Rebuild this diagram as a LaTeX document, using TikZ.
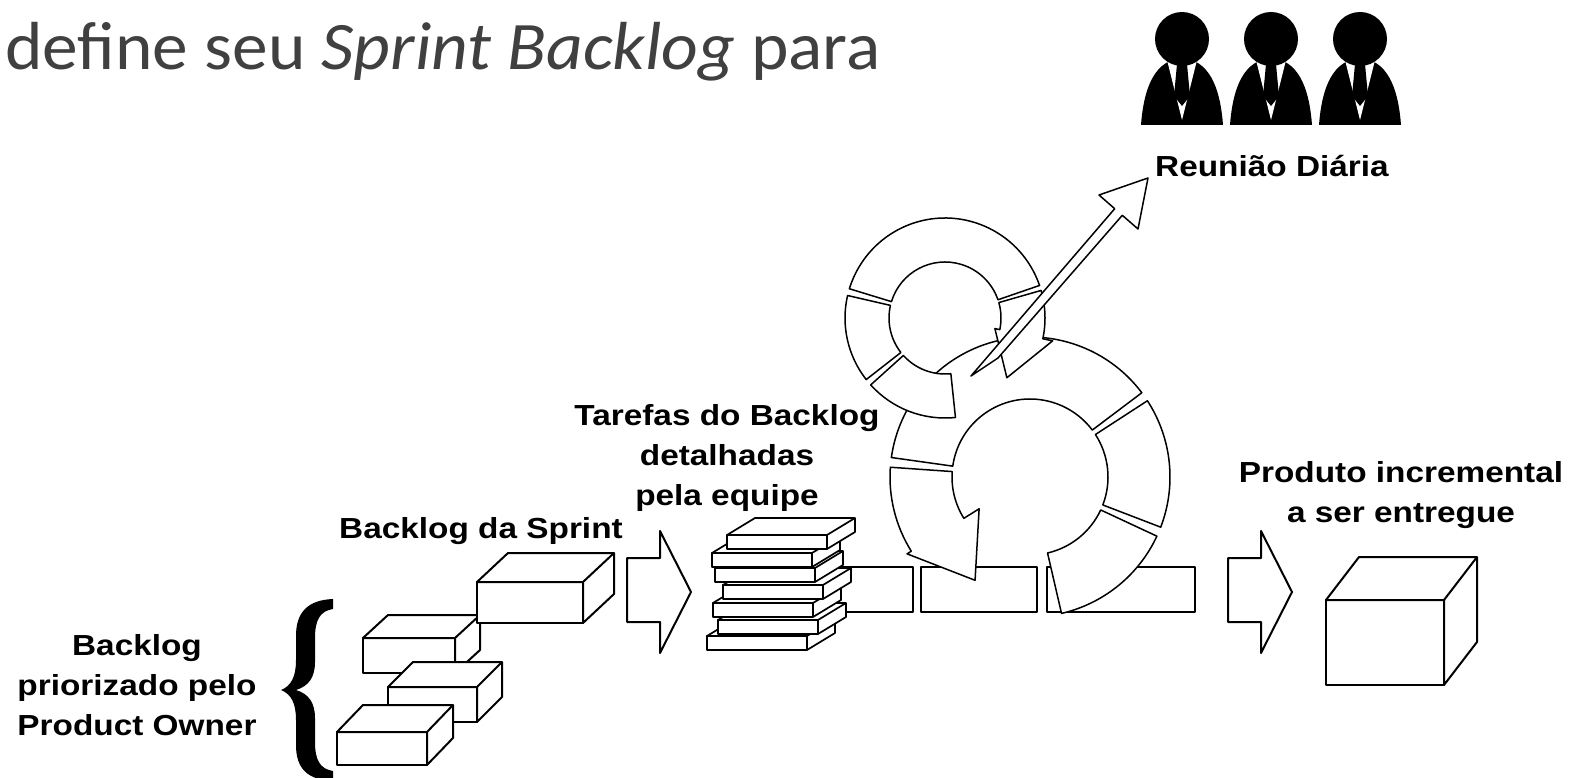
\documentclass[tikz,border=0pt]{standalone}
\usepackage{fontspec}
\setmainfont{Carlito}
\newfontfamily\slidefont[FakeStretch=1.05]{Carlito}
\newfontfamily\tagfont[FakeStretch=1.15]{Liberation Sans}
\usepackage{tikz}
\usetikzlibrary{calc}
\definecolor{slidegray}{RGB}{64,64,64}

% 3D box: front corners (x1,y1) (x2,y2), then depth offset
\newcommand{\scrumbox}[7][box]{%
  \draw[#1] (#2,#3) rectangle (#4,#5);
  \draw[#1] (#2,#3) -- ++(#6,#7) -- ({#4+#6},{#3+#7}) -- ({#4+#6},{#5+#7}) -- (#4,#5) -- (#4,#3) -- cycle;
  \draw[#1] (#4,#3) -- ++(#6,#7);}
% one flat task in the pile
\newcommand{\taskslab}[2]{\scrumbox[slab]{#1}{#2}{#1+100}{#2+14}{28}{-17}}
% ring piece: centre, inner r, outer r, from, to
\newcommand{\ringpiece}[5]{%
  \draw[ring] ($(#1)+(#4:#3)$) arc[start angle=#4, end angle=#5, radius=#3]
    -- ($(#1)+(#5:#2)$) arc[start angle=#5, end angle=#4, radius=#2] -- cycle;}
% ring piece with a head: ..., tip angle, tip r, outer wing, inner wing
\newcommand{\ringhead}[9]{%
  \draw[ring] ($(#1)+(#4:#3)$) arc[start angle=#4, end angle=#5, radius=#3]
    -- ($(#1)+(#5:{#3+#8})$) -- ($(#1)+(#6:#7)$) -- ($(#1)+(#5:{#2-#9})$)
    -- ($(#1)+(#5:#2)$) arc[start angle=#5, end angle=#4, radius=#2] -- cycle;}
% fat outlined arrow, (x,y) = top left of the shaft
\newcommand{\blockarrow}[2]{%
  \draw[box] (#1,#2) -- ++(33,0) -- ++(0,-27) -- ++(31,61) -- ++(-31,61) -- ++(0,-31) -- ++(-33,0) -- cycle;}
% team member icon
\newcommand{\member}[1]{%
  \fill (#1-41,125) .. controls (#1-38,85) and (#1-26,60) .. (#1,58)
    .. controls (#1+26,60) and (#1+38,85) .. (#1+41,125) -- cycle;
  \fill[white] (#1-15,60) -- (#1+15,60) -- (#1,120) -- cycle;
  \fill (#1-5,64) -- (#1+5,64) -- (#1+8,96) -- (#1,106) -- (#1-8,96) -- cycle;
  \fill (#1,39) circle[radius=27];}

\begin{document}
\begin{tikzpicture}[x=1pt, y=-1pt,
  box/.style={draw, fill=white, line width=2pt, line join=round},
  slab/.style={draw, fill=white, line width=1.7pt, line join=round},
  ring/.style={draw, fill=white, line width=1.5pt, line join=round},
  lbl/.style={font=\tagfont\bfseries\fontsize{29}{40}\selectfont, align=center, inner sep=0pt}]
\useasboundingbox[fill=white] (0,0) rectangle (1575,778);

% slide text
\node[anchor=base west, inner sep=0pt, text=slidegray, font=\slidefont\fontsize{68}{80}\selectfont]
  (title) at (5,70) {define seu \textit{Sprint Backlog} para};

% product backlog
\fill (333,599) .. controls (308,600) and (296,612) .. (296,636) -- (296,660)
  .. controls (296,677) and (291,686) .. (281,690)
  .. controls (291,694) and (296,703) .. (296,720) -- (296,745)
  .. controls (296,769) and (308,780) .. (333,781) -- (333,771)
  .. controls (320,769) and (315,760) .. (315,742) -- (315,718)
  .. controls (315,703) and (309,694) .. (296,690)
  .. controls (309,686) and (315,677) .. (315,662) -- (315,638)
  .. controls (315,620) and (320,611) .. (333,609) -- cycle;
\scrumbox{363}{638}{455}{673}{25}{-23}
\scrumbox{388}{687}{477}{722}{25}{-25}
\scrumbox{337}{732}{427}{765}{26}{-27}
\node[lbl, anchor=base] (pobacklog) at (137,735) {Backlog\\priorizado pelo\\Product Owner};

% sprint backlog
\scrumbox{477}{582}{583}{623}{31}{-29}
\node[lbl, anchor=base] (sprintbacklog) at (481,538) {Backlog da Sprint};
\blockarrow{627}{558}

% sprint days
\draw[box] (838,567) rectangle (913,612);
\draw[box] (921,567) rectangle (1037,612);
\draw[box] (1047,567) rectangle (1195,612);

% task pile
\taskslab{707}{636}
\taskslab{718}{620}
\taskslab{713}{603}
\taskslab{723}{585}
\taskslab{715}{568}
\taskslab{712}{553}
\taskslab{727}{535}
\node[lbl, anchor=base] (tasks) at (727,505) {Tarefas do Backlog\\detalhadas\\pela equipe};

% sprint cycle
\coordinate (big) at (1030,477);
\ringpiece{big}{78}{140}{77}{25}
\ringpiece{big}{78}{140}{21}{-33}
\ringpiece{big}{78}{140}{-37}{-172}
\ringhead{big}{78}{140}{-176}{-212}{-242}{117}{5}{18}

% daily cycle
\coordinate (small) at (945,318);
\ringpiece{small}{56}{100}{-19}{-163}
\ringpiece{small}{56}{100}{-167}{-218}
\ringpiece{small}{56}{100}{-222}{-276}
\ringhead{small}{56}{100}{-16}{12}{44}{86}{10}{5}

% daily meeting
\draw[ring] (1148,178) -- (1138,229) -- (1122.3,215.3) -- (998,358) -- (971,376)
  -- (1114.7,208.7) -- (1099,195) -- cycle;
\member{1182}
\member{1271}
\member{1360}
\node[lbl, anchor=base west] (daily) at (1155,177) {Reunião Diária};

% increment
\blockarrow{1228}{558}
\scrumbox{1326}{600}{1444}{685}{33}{-43}
\node[lbl, anchor=base] (increment) at (1401,522) {Produto incremental\\a ser entregue};
\end{tikzpicture}
\end{document}
